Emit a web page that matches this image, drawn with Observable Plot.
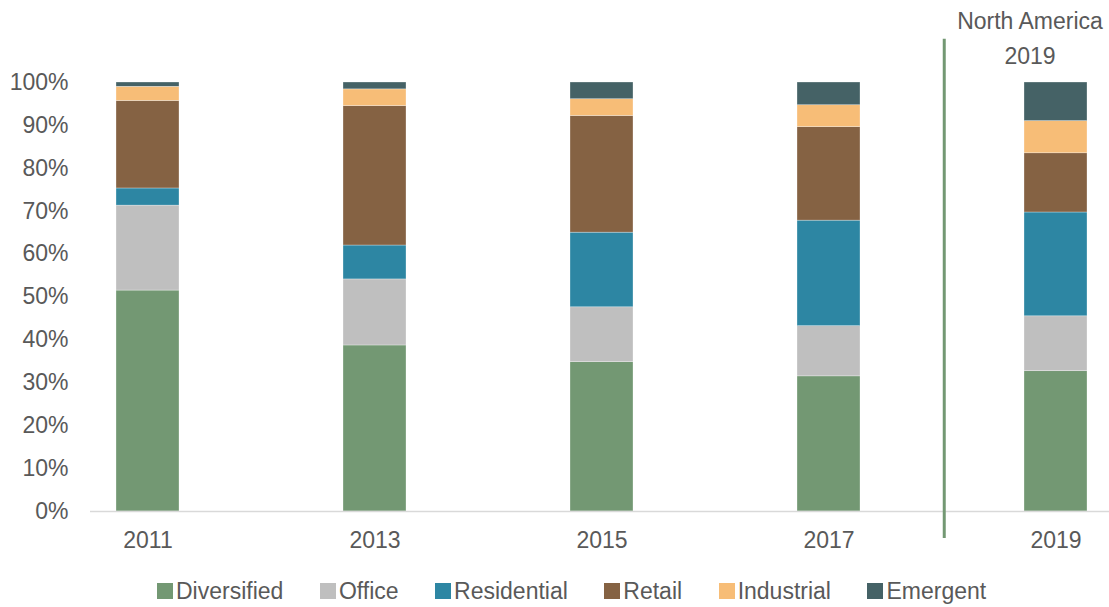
<!DOCTYPE html>
<html>
<head>
<meta charset="utf-8">
<script src="https://cdn.jsdelivr.net/npm/d3@7"></script>
<script src="https://cdn.jsdelivr.net/npm/@observablehq/plot@0.6"></script>
<style>
  html, body { margin: 0; padding: 0; background: #fff; }
  body { width: 1109px; height: 607px; overflow: hidden; font-family: "Liberation Sans", Arial, sans-serif; }
  #legend { display: flex; align-items: center; margin-top: 13px; margin-left: 157px; height: 26px; font-size: 23px; color: #595959; }
  #legend .item { display: flex; align-items: center; margin-right: 36.5px; }
  #legend .sw { width: 16px; height: 16px; margin-right: 3px; }
</style>
</head>
<body>
<div id="chart"></div>
<div id="legend"></div>
<script>
const years = ["2011", "2013", "2015", "2017", "2019"];
const sectors = ["Diversified", "Office", "Residential", "Retail", "Industrial", "Emergent"];
const colors = ["#739873", "#bfbfbf", "#2d86a3", "#856243", "#f7bd77", "#456266"];
const diversified = [51.5, 38.7, 34.8, 31.5, 32.7];
const office      = [19.8, 15.4, 12.8, 11.7, 12.8];
const residential = [4.0, 7.9, 17.4, 24.6, 24.2];
const retail      = [20.4, 32.5, 27.2, 21.8, 13.8];
const industrial  = [3.3, 3.9, 3.9, 5.1, 7.5];
const emergent    = [1.0, 1.6, 3.9, 5.3, 9.0];
const yTicks = [0, 10, 20, 30, 40, 50, 60, 70, 80, 90, 100];
const headerLines = ["North America", "2019"];
const dividerBefore = "2019";

const series = [diversified, office, residential, retail, industrial, emergent];
const data = [];
years.forEach((yr, i) => {
  sectors.forEach((s, j) => data.push({year: yr, sector: s, value: series[j][i]}));
});

const W = 1109, H = 565;
const step = 227.5;

const chart = Plot.plot({
  width: W,
  height: H,
  marginLeft: 90,
  marginRight: 0,
  marginTop: 82,
  marginBottom: 54,
  style: {fontFamily: "'Liberation Sans', Arial, sans-serif", fontSize: "23px", color: "#595959", background: "#fff", overflow: "visible"},
  x: {domain: years, range: [90, 1113.6], paddingInner: 0.721, paddingOuter: 0.111, label: null},
  y: {domain: [0, 100], label: null},
  color: {domain: sectors, range: colors},
  marks: [
    Plot.barY(data, Plot.stackY({x: "year", y: "value", fill: "sector", order: sectors, stroke: "#ffffff", strokeWidth: 0.6, strokeOpacity: 0.5})),
    Plot.ruleY([0], {stroke: "#d9d9d9", strokeWidth: 1.5}),
    Plot.axisY(yTicks, {tickSize: 0, tickPadding: 22, tickFormat: d => d + "%", fontSize: 23, fill: "#595959", label: null}),
    Plot.axisX({tickSize: 0, tickPadding: 20, fontSize: 23, fill: "#595959", label: null}),
    Plot.ruleX([dividerBefore], {dx: -step / 2 + 2, y1: -6.3, y2: 110.1, stroke: "#739873", strokeWidth: 3}),
    Plot.text([headerLines[0]], {x: () => dividerBefore, frameAnchor: "top", dy: -70, dx: -26, fontSize: 23, fill: "#595959"}),
    Plot.text([headerLines[1]], {x: () => dividerBefore, frameAnchor: "top", dy: -35, dx: -26, fontSize: 23, fill: "#595959"})
  ]
});
document.getElementById("chart").appendChild(chart);

const legend = document.getElementById("legend");
sectors.forEach((s, i) => {
  const item = document.createElement("div");
  item.className = "item";
  const sw = document.createElement("span");
  sw.className = "sw";
  sw.style.background = colors[i];
  const label = document.createElement("span");
  label.textContent = s;
  item.appendChild(sw);
  item.appendChild(label);
  legend.appendChild(item);
});
</script>
</body>
</html>
